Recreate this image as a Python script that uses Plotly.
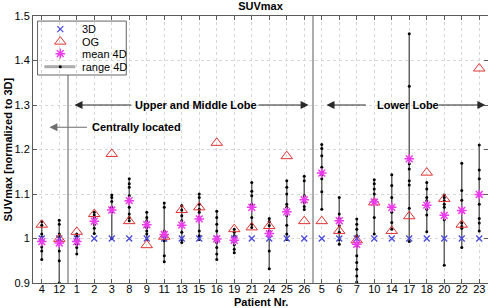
import plotly.graph_objects as go

patients = ["4", "12", "1", "2", "3", "8", "9", "11", "13", "15", "16", "19", "21",
            "24", "25", "26", "5", "6", "7", "10", "14", "17", "18", "20", "22", "23"]

suv_3d = [1.0, 1.0, 1.0, 1.0, 1.0, 1.0, 1.0, 1.0, 1.0, 1.0, 1.0, 1.0, 1.0,
          1.0, 1.0, 1.0, 1.0, 1.0, 1.0, 1.0, 1.0, 1.0, 1.0, 1.0, 1.0, 1.0]

suv_og = [1.031, 0.999, 1.015, 1.055, 1.19, 1.039, 0.985, 1.004, 1.064, 1.07, 1.215, 1.021, 1.025,
          1.028, 1.185, 1.039, 1.039, 1.017, 0.996, 1.081, 1.017, 1.05, 1.148, 1.089, 1.031, 1.382]

mean_4d = [0.993, 0.99, 0.993, 1.039, 1.064, 1.085, 1.031, 1.009, 1.03, 1.044, 0.999, 0.996, 1.07,
           1.011, 1.06, 1.087, 1.147, 1.04, 0.987, 1.082, 1.07, 1.179, 1.075, 1.052, 1.063, 1.099]

phase_4d = [
    [1.038, 1.03, 1.01, 1.002, 0.993, 0.981, 0.972, 0.953],
    [1.041, 1.032, 1.01, 1.002, 0.996, 0.989, 0.972, 0.95, 0.90],
    [1.01, 1.005, 0.999, 0.993, 0.987, 0.98, 0.965],
    [1.059, 1.053, 1.047, 1.038, 1.031, 1.023, 1.011],
    [1.098, 1.092, 1.083, 1.07, 1.065, 1.06, 1.0],
    [1.134, 1.123, 1.115, 1.096, 1.085, 1.07, 1.055, 1.047, 1.04],
    [1.059, 1.047, 1.04, 1.032, 1.025, 1.017, 1.01, 0.998],
    [1.08, 1.07, 1.017, 1.01, 1.002, 0.995, 0.961, 0.948],
    [1.074, 1.064, 1.051, 1.04, 1.029, 1.014, 0.998, 0.991],
    [1.1, 1.092, 1.077, 1.066, 1.059, 1.047, 1.017, 1.006, 0.998],
    [1.061, 1.047, 1.032, 1.017, 1.002, 0.991, 0.98, 0.965, 0.953],
    [1.021, 1.014, 1.006, 0.998, 0.993, 0.986, 0.976, 0.968],
    [1.126, 1.106, 1.096, 1.077, 1.07, 1.047, 1.032, 1.025],
    [1.045, 1.038, 1.029, 1.017, 1.012, 0.972, 0.932],
    [1.13, 1.115, 1.1, 1.077, 1.07, 1.051, 1.03, 1.01, 0.998],
    [1.14, 1.13, 1.096, 1.089, 1.081, 1.072, 1.065],
    [1.211, 1.202, 1.186, 1.16, 1.149, 1.143, 1.134, 1.105, 1.066],
    [1.092, 1.055, 1.045, 1.038, 1.029, 1.014, 0.998, 0.987],
    [1.044, 1.032, 1.021, 1.006, 0.983, 0.961, 0.946, 0.931, 0.916, 0.902],
    [1.132, 1.123, 1.111, 1.1, 1.085, 1.081, 1.047, 1.01],
    [1.143, 1.119, 1.092, 1.07, 1.059, 1.036, 1.021],
    [1.46, 1.342, 1.179, 1.168, 1.156, 1.13, 1.12, 1.068, 0.993],
    [1.126, 1.111, 1.092, 1.085, 1.074, 1.066, 1.053, 1.015],
    [1.098, 1.092, 1.085, 1.077, 1.07, 1.051, 1.042, 0.94],
    [1.169, 1.108, 1.086, 1.062, 1.035, 1.027, 1.023, 0.98],
    [1.21, 1.154, 1.134, 1.098, 1.077, 1.045, 1.035, 1.017],
]

legend_names = ["3D", "OG", "mean 4D", "range 4D"]

FONT = "Liberation Sans, Arial, sans-serif"
C3D = "rgb(70,70,225)"
COG = "rgb(225,50,50)"
CMEAN = "rgb(235,60,235)"
CRANGE = "rgb(100,100,100)"

m3d = dict(symbol="x-thin-open", size=6, color=C3D, line=dict(color=C3D, width=1.2))
mog = dict(symbol="triangle-up-open", size=10, color=COG, line=dict(color=COG, width=1))
mmean = dict(symbol="asterisk-open", size=8, color=CMEAN, line=dict(color=CMEAN, width=1.5))
mdot = dict(color="black", size=3)

# range lines (min..max of phases)
rx, ry = [], []
for p, ph in zip(patients, phase_4d):
    rx += [p, p, None]
    ry += [min(ph), max(ph), None]

# individual phase dots
dx, dy = [], []
for p, ph in zip(patients, phase_4d):
    dx += [p] * len(ph)
    dy += ph

fig = go.Figure()

fig.add_trace(go.Scatter(x=rx, y=ry, mode="lines", connectgaps=False, showlegend=False,
                         line=dict(color=CRANGE, width=1.5)))
fig.add_trace(go.Scatter(x=dx, y=dy, mode="markers", showlegend=False, marker=mdot))
fig.add_trace(go.Scatter(x=patients, y=suv_3d, mode="markers", showlegend=False, marker=m3d))
fig.add_trace(go.Scatter(x=patients, y=suv_og, mode="markers", showlegend=False, marker=mog))
fig.add_trace(go.Scatter(x=patients, y=mean_4d, mode="markers", showlegend=False, marker=mmean))

LEG_X0, LEG_X1, LEG_Y0, LEG_Y1 = 0.01, 0.205, 0.779, 0.981

# separators
fig.add_shape(type="line", xref="x", yref="paper", x0=1.5, x1=1.5, y0=0, y1=LEG_Y0,
              line=dict(color="rgb(90,90,90)", width=1))
fig.add_shape(type="line", xref="x", yref="paper", x0=15.5, x1=15.5, y0=0, y1=1,
              line=dict(color="rgb(90,90,90)", width=1))

arrow_col = "rgb(40,40,40)"
def arrow(tip, start, y, col=arrow_col):
    fig.add_annotation(x=tip, y=y, ax=start, ay=y, xref="x", yref="y", axref="x", ayref="y",
                       text="", showarrow=True, arrowhead=2, arrowsize=1.6, arrowwidth=1,
                       arrowcolor=col)

def label(x, y, t):
    fig.add_annotation(x=x, y=y, xref="x", yref="y", text="<b>%s</b>" % t, showarrow=False,
                       font=dict(family=FONT, size=11, color="black"))

arrow(1.87, 5.2, 1.3)
arrow(15.25, 12.3, 1.3)
label(8.8, 1.3, "Upper and Middle Lobe")
arrow(0.44, 2.67, 1.25, "rgb(110,110,110)")
label(5.4, 1.25, "Centrally located")
arrow(16.27, 18.6, 1.3)
arrow(25.35, 22.6, 1.3)
label(20.93, 1.3, "Lower Lobe")

# custom legend (paper-like overlay axes)
fig.add_shape(type="rect", xref="paper", yref="paper", x0=LEG_X0, x1=LEG_X1, y0=LEG_Y0, y1=LEG_Y1,
              fillcolor="white", line=dict(color="rgb(100,100,100)", width=1), layer="between")
leg_y = [0.951, 0.904, 0.859, 0.810]
fig.add_trace(go.Scatter(x=[0.025, 0.093], y=[leg_y[3], leg_y[3]], mode="lines",
                         xaxis="x2", yaxis="y2", showlegend=False,
                         line=dict(color="rgb(170,170,170)", width=3)))
fig.add_trace(go.Scatter(x=[0.06], y=[leg_y[3]], mode="markers", xaxis="x2", yaxis="y2",
                         showlegend=False, marker=mdot))
for yy, mk in zip(leg_y[:3], (m3d, mog, mmean)):
    fig.add_trace(go.Scatter(x=[0.06], y=[yy], mode="markers", xaxis="x2", yaxis="y2",
                             showlegend=False, marker=mk))
for yy, nm in zip(leg_y, legend_names):
    fig.add_annotation(x=0.103, y=yy, xref="paper", yref="paper", text=nm, showarrow=False,
                       xanchor="left", yanchor="middle", font=dict(family=FONT, size=11))

# axis titles
fig.add_annotation(x=0.5, y=-0.1, xref="paper", yref="paper", text="<b>Patient Nr.</b>",
                   showarrow=False, yanchor="bottom", font=dict(family=FONT, size=11))
fig.add_annotation(x=-0.055, y=0.5, xref="paper", yref="paper",
                   text="<b>SUVmax [normalized to 3D]</b>", showarrow=False, textangle=-90,
                   xanchor="center", yanchor="middle", font=dict(family=FONT, size=11))

axis_common = dict(
    showgrid=True, gridcolor="rgb(215,215,215)", griddash="dot", gridwidth=1,
    ticks="inside", ticklen=4, tickcolor="rgb(90,90,90)",
    showline=True, linecolor="rgb(90,90,90)", mirror="allticks",
    tickfont=dict(family=FONT, size=11), zeroline=False, automargin=False,
)

fig.update_layout(
    width=488, height=308,
    margin=dict(l=33, r=0, t=16, b=25),
    paper_bgcolor="white", plot_bgcolor="white",
    font=dict(family=FONT, size=11, color="black"),
    title=dict(text="<b>SUVmax</b>", x=0.5, xref="paper", y=0.98, yanchor="middle",
               font=dict(family=FONT, size=11)),
    showlegend=False,
    xaxis=dict(type="category", categoryorder="array", categoryarray=patients,
               range=[-0.5, 25.5], ticklabelstandoff=-4, **axis_common),
    yaxis=dict(range=[0.9, 1.5], dtick=0.1, tick0=0.9, **axis_common),
    xaxis2=dict(overlaying="x", range=[0, 1], visible=False, fixedrange=True),
    yaxis2=dict(overlaying="y", range=[0, 1], visible=False, fixedrange=True),
)

fig.write_html("out.html", config={"displayModeBar": False},
               post_script="document.body.style.margin='0';")
